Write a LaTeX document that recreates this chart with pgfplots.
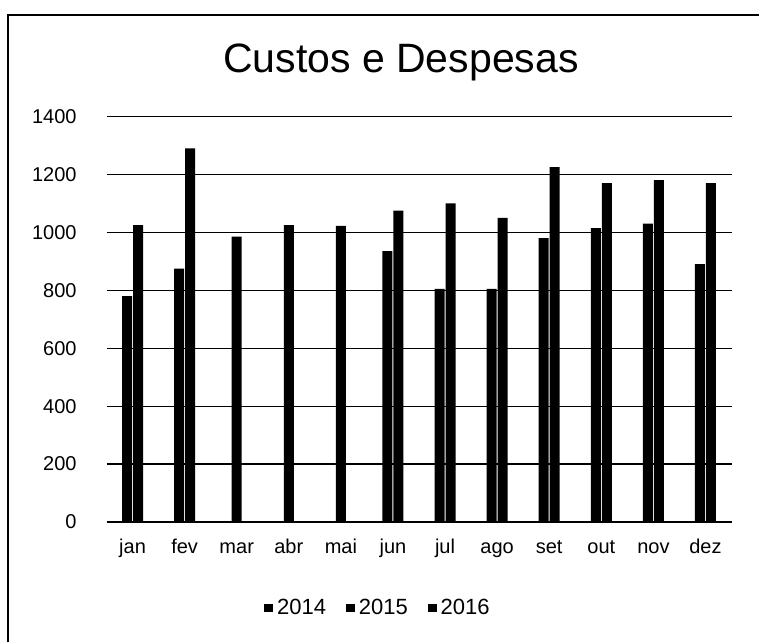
\documentclass[border=0pt]{standalone}
\usepackage{fontspec}
\setmainfont{Liberation Sans}
\usepackage{pgfplots}
\pgfplotsset{compat=1.18}
\begin{document}
\begin{tikzpicture}[x=1pt,y=1pt]
\useasboundingbox (0,0) rectangle (379.5,321);
\draw[line width=0.7pt] (4,0) -- (4,313.5) -- (379.5,313.5);
\node[anchor=base, font=\fontsize{20.5pt}{24pt}\selectfont, inner sep=0pt] at (200.5,284.5) {Custos e Despesas};
\begin{axis}[at={(53.25pt,60pt)}, anchor=south west, scale only axis,
  width=312.5pt, height=202.75pt,
  xmin=-0.5, xmax=11.5, ymin=0, ymax=1400,
  ytick={0,200,...,1400}, xtick={0,...,11},
  xticklabels={jan,fev,mar,abr,mai,jun,jul,ago,set,out,nov,dez},
  ymajorgrids, grid style={black, line width=0.6pt},
  axis line style={draw=none}, major tick length=0pt,
  tick label style={font=\fontsize{10pt}{12pt}\selectfont},
  /pgf/number format/assume math mode=true,
  scaled y ticks=false, yticklabel style={/pgf/number format/1000 sep={}},
  yticklabel style={anchor=east, inner sep=0pt, xshift=-14.75pt},
  xticklabel style={anchor=base, inner sep=0pt, yshift=-15.5pt},
  legend columns=3,
  legend style={draw=none, fill=none, at={(0.436,-0.212)}, anchor=center,
    font=\fontsize{11pt}{13pt}\selectfont,
    /tikz/every even column/.append style={column sep=8pt}},
  legend image code/.code={\fill[black] (0pt,-2.2pt) rectangle (4.4pt,2.2pt);},
]
\addplot[ybar, bar width=5pt, bar shift=-2.75pt, fill=black, draw=none] coordinates {
(0,780) (1,875) (5,935) (6,805) (7,805) (8,980) (9,1015) (10,1030) (11,890)};
\addlegendentry{2014}
\addplot[ybar, bar width=5pt, bar shift=0pt, fill=black, draw=none] coordinates {
(2,985) (3,1025) (4,1022)};
\addlegendentry{2015}
\addplot[ybar, bar width=5pt, bar shift=2.75pt, fill=black, draw=none] coordinates {
(0,1025) (1,1290) (5,1075) (6,1100) (7,1050) (8,1225) (9,1170) (10,1180) (11,1170)};
\addlegendentry{2016}
\end{axis}
\end{tikzpicture}
\end{document}
